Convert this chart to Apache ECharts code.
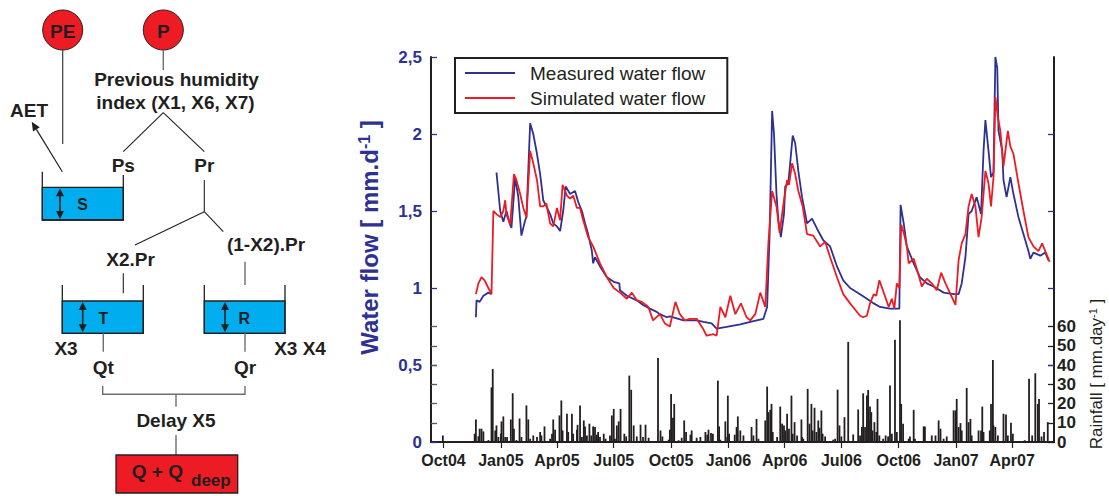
<!DOCTYPE html>
<html><head><meta charset="utf-8">
<script src="https://cdn.jsdelivr.net/npm/echarts@6/dist/echarts.min.js"></script>
<style>html,body{margin:0;padding:0;background:#fff}#c{width:1109px;height:496px}</style>
</head><body><div id="c"></div>
<script>
// ---------- DATA ----------
const tickLabels = ['Oct04','Jan05','Apr05','Jul05','Oct05','Jan06','Apr06','Jul06','Oct06','Jan07','Apr07'];
const tickDates = ['2004-10-01','2005-01-01','2005-04-01','2005-07-01','2005-10-01','2006-01-01','2006-04-01','2006-07-01','2006-10-01','2007-01-01','2007-04-01'];
const flowTicks = [0, 0.5, 1, 1.5, 2, 2.5];
const rainTicks = [0, 10, 20, 30, 40, 50, 60];
const seriesNames = ['Measured water flow', 'Simulated water flow'];

const measuredFlow = [
['2004-11-22',0.81],['2004-11-23',0.92],['2004-11-28',0.91],['2004-12-04',0.95],['2004-12-12',0.97],['2004-12-17',0.96],['2004-12-21',null],
['2004-12-25',1.75],['2004-12-31',1.50],['2005-01-05',1.43],['2005-01-10',1.50],['2005-01-16',1.41],['2005-01-18',1.39],['2005-01-24',1.72],['2005-01-29',1.59],['2005-02-03',1.34],['2005-02-09',1.44],['2005-02-11',1.46],['2005-02-17',2.07],['2005-02-22',2.00],['2005-02-28',1.87],['2005-03-05',1.74],['2005-03-10',1.57],['2005-03-15',1.53],['2005-03-21',1.48],['2005-03-26',1.42],['2005-04-01',1.40],['2005-04-06',1.37],['2005-04-11',1.50],['2005-04-15',1.66],['2005-04-22',1.61],['2005-04-30',1.63],['2005-05-05',1.56],['2005-05-11',1.50],['2005-05-16',1.42],['2005-05-21',1.35],['2005-05-27',1.24],['2005-05-29',1.16],['2005-06-01',1.20],['2005-06-09',1.14],['2005-06-20',1.07],['2005-07-01',1.04],['2005-07-10',1.03],['2005-07-11',0.985],['2005-07-22',0.95],['2005-08-07',0.92],['2005-08-17',0.89],['2005-08-28',0.866],['2005-09-08',0.845],['2005-09-13',0.83],['2005-09-24',0.81],['2005-09-29',0.816],['2005-10-21',0.79],['2005-11-11',0.79],['2005-11-22',0.78],['2005-12-05',0.77],['2005-12-13',0.736],['2005-12-29',0.747],['2006-01-20',0.764],['2006-02-05',0.78],['2006-02-26',0.80],['2006-03-04',0.877],['2006-03-08',1.35],['2006-03-12',2.15],['2006-03-15',2.00],['2006-03-19',1.61],['2006-03-22',1.44],['2006-03-26',1.33],['2006-03-31',1.48],['2006-04-02',1.66],['2006-04-07',1.68],['2006-04-14',1.99],['2006-04-18',1.94],['2006-04-23',1.76],['2006-04-29',1.59],['2006-05-07',1.42],['2006-05-15',1.45],['2006-05-23',1.385],['2006-06-02',1.31],['2006-06-13',1.27],['2006-06-24',1.14],['2006-07-04',1.05],['2006-07-15',1.00],['2006-07-31',0.96],['2006-08-11',0.93],['2006-08-22',0.90],['2006-09-01',0.877],['2006-09-17',0.866],['2006-10-02',0.866],['2006-10-04',1.54],['2006-10-09',1.42],['2006-10-14',1.27],['2006-10-18',1.23],['2006-10-25',1.16],['2006-11-04',1.07],['2006-11-15',1.03],['2006-11-26',1.01],['2006-12-12',0.97],['2006-12-28',0.96],['2007-01-05',0.96],['2007-01-10',1.03],['2007-01-16',1.20],['2007-01-21',1.48],['2007-01-26',1.50],['2007-02-03',1.59],['2007-02-10',1.48],['2007-02-14',1.89],['2007-02-17',2.09],['2007-02-22',1.89],['2007-02-26',1.72],['2007-03-02',1.75],['2007-03-05',2.5],['2007-03-08',2.43],['2007-03-10',2.02],['2007-03-16',1.89],['2007-03-18',1.70],['2007-03-23',1.59],['2007-03-29',1.72],['2007-04-03',1.61],['2007-04-11',1.46],['2007-04-19',1.35],['2007-04-27',1.24],['2007-04-30',1.19],['2007-05-05',1.23],['2007-05-16',1.21],['2007-05-24',1.23],['2007-05-29',1.18]
];

const simulatedFlow = [
['2004-11-22',0.96],['2004-11-26',1.03],['2004-12-01',1.07],['2004-12-06',1.05],['2004-12-12',1.00],['2004-12-17',0.96],['2004-12-20',1.50],['2004-12-25',1.48],['2004-12-31',1.46],['2005-01-05',1.50],['2005-01-08',1.57],['2005-01-10',1.48],['2005-01-16',1.41],['2005-01-22',1.74],['2005-01-26',1.70],['2005-02-01',1.61],['2005-02-06',1.52],['2005-02-11',1.46],['2005-02-17',1.89],['2005-02-22',1.81],['2005-02-28',1.70],['2005-03-05',1.53],['2005-03-10',1.53],['2005-03-15',1.55],['2005-03-21',1.42],['2005-03-26',1.40],['2005-04-01',1.52],['2005-04-06',1.44],['2005-04-10',1.67],['2005-04-17',1.60],['2005-04-22',1.58],['2005-04-27',1.60],['2005-05-03',1.52],['2005-05-08',1.52],['2005-05-13',1.44],['2005-05-21',1.33],['2005-05-29',1.27],['2005-06-09',1.16],['2005-06-20',1.07],['2005-07-01',1.00],['2005-07-11',0.97],['2005-07-22',0.93],['2005-07-30',0.97],['2005-08-07',0.92],['2005-08-15',0.91],['2005-08-25',0.88],['2005-08-28',0.85],['2005-09-02',0.79],['2005-09-13',0.83],['2005-09-21',0.77],['2005-09-29',0.75],['2005-10-08',0.91],['2005-10-15',0.83],['2005-10-23',0.79],['2005-10-31',0.80],['2005-11-11',0.80],['2005-11-22',0.73],['2005-11-27',0.69],['2005-12-08',0.70],['2005-12-13',0.69],['2005-12-19',0.877],['2005-12-27',0.81],['2006-01-04',0.95],['2006-01-12',0.83],['2006-01-21',0.90],['2006-01-30',0.81],['2006-02-05',0.79],['2006-02-13',0.83],['2006-02-21',0.97],['2006-03-01',0.877],['2006-03-06',1.29],['2006-03-12',1.63],['2006-03-19',1.53],['2006-03-24',1.36],['2006-03-31',1.57],['2006-04-05',1.70],['2006-04-08',1.67],['2006-04-13',1.81],['2006-04-18',1.74],['2006-04-23',1.63],['2006-04-30',1.53],['2006-05-07',1.35],['2006-05-17',1.34],['2006-05-28',1.27],['2006-06-05',1.30],['2006-06-13',1.20],['2006-06-24',1.07],['2006-07-04',0.96],['2006-07-15',0.90],['2006-07-31',0.82],['2006-08-05',0.81],['2006-08-11',0.82],['2006-08-16',0.90],['2006-08-22',0.96],['2006-08-26',0.95],['2006-08-31',1.05],['2006-09-07',0.97],['2006-09-15',0.877],['2006-09-20',0.93],['2006-09-24',0.866],['2006-09-28',1.03],['2006-10-02',1.00],['2006-10-05',1.41],['2006-10-09',1.36],['2006-10-14',1.27],['2006-10-17',1.16],['2006-10-25',1.19],['2006-10-31',1.11],['2006-11-07',1.01],['2006-11-15',1.06],['2006-11-23',1.03],['2006-12-01',0.985],['2006-12-08',1.10],['2006-12-15',1.03],['2006-12-23',0.96],['2006-12-31',0.89],['2007-01-05',1.18],['2007-01-10',1.29],['2007-01-16',1.35],['2007-01-21',1.53],['2007-01-26',1.61],['2007-02-01',1.53],['2007-02-06',1.33],['2007-02-11',1.46],['2007-02-17',1.76],['2007-02-22',1.68],['2007-02-26',1.53],['2007-03-02',1.72],['2007-03-05',2.24],['2007-03-09',2.11],['2007-03-13',2.02],['2007-03-18',1.79],['2007-03-25',2.02],['2007-03-29',1.92],['2007-04-03',1.87],['2007-04-11',1.68],['2007-04-19',1.50],['2007-04-27',1.33],['2007-05-05',1.27],['2007-05-13',1.24],['2007-05-19',1.29],['2007-05-24',1.24],['2007-05-31',1.17]
];

const rainfall = [
['2004-09-30',3.4],['2004-11-20',4.3],['2004-11-22',11.7],['2004-11-26',3],['2004-11-28',6.9],['2004-12-01',6.9],['2004-12-04',5.5],['2004-12-12',1],['2004-12-17',28.4],['2004-12-19',37.9],['2004-12-23',6],['2004-12-25',8.6],['2004-12-28',2.6],['2005-01-01',4.3],['2005-01-02',10.7],['2005-01-05',13.3],['2005-01-08',2.6],['2005-01-11',2.6],['2005-01-17',11.7],['2005-01-20',25.3],['2005-01-22',6.9],['2005-01-26',1],['2005-01-31',12.2],['2005-02-03',2.6],['2005-02-11',19],['2005-02-14',11.7],['2005-02-17',1.7],['2005-02-22',3.4],['2005-02-28',2.6],['2005-03-05',5.2],['2005-03-07',3.4],['2005-03-12',8.1],['2005-03-21',1.7],['2005-03-24',4.3],['2005-03-26',11.7],['2005-03-29',6.4],['2005-04-05',13.8],['2005-04-08',21.6],['2005-04-10',6],['2005-04-17',14.7],['2005-04-19',5.2],['2005-04-25',14.7],['2005-04-27',4.3],['2005-05-03',6.4],['2005-05-04',8.9],['2005-05-08',19],['2005-05-11',2.6],['2005-05-14',11.2],['2005-05-16',8.1],['2005-05-19',3.4],['2005-05-23',9.5],['2005-05-26',3.4],['2005-05-29',8.1],['2005-06-01',7.8],['2005-06-04',3.8],['2005-06-06',5.2],['2005-06-09',2.6],['2005-06-15',4.3],['2005-06-18',1.7],['2005-06-25',3.4],['2005-06-28',13.8],['2005-07-01',17.2],['2005-07-03',1.7],['2005-07-06',8.6],['2005-07-09',10.7],['2005-07-12',17.2],['2005-07-18',4.3],['2005-07-21',2.9],['2005-07-26',34.5],['2005-07-29',27.1],['2005-08-02',8.6],['2005-08-07',2.9],['2005-08-13',9],['2005-08-17',2.6],['2005-08-21',9],['2005-08-26',2.2],['2005-09-10',43.6],['2005-09-14',6],['2005-09-17',2.9],['2005-09-27',1.2],['2005-09-29',6.4],['2005-10-01',25],['2005-10-04',12.6],['2005-10-06',19.8],['2005-10-13',0.9],['2005-10-18',2.2],['2005-10-22',11.2],['2005-10-25',5.2],['2005-11-01',3.8],['2005-11-03',6],['2005-11-11',2.2],['2005-11-17',2.6],['2005-11-25',5.2],['2005-11-28',3.8],['2005-11-30',6.4],['2005-12-04',4.7],['2005-12-07',4.3],['2005-12-15',31.9],['2005-12-17',8.1],['2005-12-19',1.2],['2005-12-27',10.7],['2005-12-30',2.6],['2005-12-31',24.1],['2006-01-02',4.3],['2006-01-11',3.8],['2006-01-14',7.8],['2006-01-16',13.3],['2006-01-20',6],['2006-01-25',3.4],['2006-02-07',7.8],['2006-02-10',3.4],['2006-02-15',12],['2006-02-18',1.7],['2006-03-01',11.2],['2006-03-04',28.8],['2006-03-06',15.5],['2006-03-09',16.7],['2006-03-11',19.8],['2006-03-13',5.2],['2006-03-20',2.6],['2006-03-25',18.4],['2006-03-28',9.5],['2006-03-31',8.6],['2006-04-02',6],['2006-04-05',14.7],['2006-04-08',6.9],['2006-04-12',24.1],['2006-04-14',4.3],['2006-04-17',10.3],['2006-04-21',3.4],['2006-04-28',11.7],['2006-04-29',2.6],['2006-05-01',1.7],['2006-05-08',27.6],['2006-05-11',9.5],['2006-05-14',19.8],['2006-05-16',6],['2006-05-19',17.8],['2006-05-22',5.2],['2006-05-25',11.2],['2006-05-27',7.4],['2006-05-30',16.4],['2006-06-01',4.3],['2006-06-05',2.9],['2006-06-08',0.5],['2006-06-18',1.2],['2006-06-21',1.7],['2006-06-25',27.2],['2006-06-28',8.6],['2006-07-01',2.9],['2006-07-06',12.9],['2006-07-12',52],['2006-07-20',3.9],['2006-07-28',16.9],['2006-07-31',3.4],['2006-08-03',7.8],['2006-08-05',25.3],['2006-08-08',7.8],['2006-08-11',24.1],['2006-08-13',27],['2006-08-14',11.2],['2006-08-16',18.4],['2006-08-18',15.5],['2006-08-20',6],['2006-08-23',10.3],['2006-08-26',5.2],['2006-08-28',22.4],['2006-08-31',3.4],['2006-09-06',1.7],['2006-09-10',3.4],['2006-09-14',2.9],['2006-09-17',29.3],['2006-09-20',4.3],['2006-09-25',53.1],['2006-09-28',5.2],['2006-10-03',63.3],['2006-10-05',19.8],['2006-10-08',9.5],['2006-10-17',1.7],['2006-10-19',2.9],['2006-10-25',16.7],['2006-10-27',1.7],['2006-11-10',8.1],['2006-11-12',8.1],['2006-11-23',3.4],['2006-11-29',3.4],['2006-12-04',11.2],['2006-12-07',6.9],['2006-12-12',1.7],['2006-12-17',2.9],['2006-12-28',16.4],['2006-12-31',16.4],['2007-01-02',22.4],['2007-01-05',7.8],['2007-01-08',9.8],['2007-01-10',6],['2007-01-18',28.1],['2007-01-21',10.3],['2007-01-24',12],['2007-01-26',3.4],['2007-02-06',6],['2007-02-10',6],['2007-02-12',18.4],['2007-02-14',5.2],['2007-02-24',6],['2007-02-26',19.8],['2007-03-01',42.6],['2007-03-02',8.6],['2007-03-05',7.8],['2007-03-09',3.4],['2007-03-18',14.7],['2007-03-22',14.3],['2007-03-25',3.4],['2007-03-30',10],['2007-04-02',4.3],['2007-04-21',0.9],['2007-04-28',32.8],['2007-05-03',3.4],['2007-05-08',35.7],['2007-05-12',19.8],['2007-05-14',22.4],['2007-05-18',2.9],['2007-05-22',5.2],['2007-05-28',10.3]
];

// ---------- HELPERS ----------
function ts(s) { const p = s.split('-').map(Number); return Date.UTC(p[0], p[1] - 1, p[2]); }
const tickTs = tickDates.map(ts);
const xMin = ts('2004-09-11'), xMax = ts('2007-06-07');
function labelFor(v) {
  let best = 0, bd = Infinity;
  tickTs.forEach((t, i) => { const d = Math.abs(t - v); if (d < bd) { bd = d; best = i; } });
  return tickLabels[best];
}
const toXY = arr => arr.map(d => [ts(d[0]), d[1]]);

const FF = '"Liberation Sans", Arial, Helvetica, sans-serif';
const ink = '#231f20';
const navy = '#2e3192';
const red = '#ed1c24';
const cyan = '#00aeef';
const gray = '#6d6e71';

// ---------- DIAGRAM (schematic, not data) ----------
const g = [];
function T(text, x, y, size, o) {
  o = o || {};
  g.push({ type: 'text', x: x, y: y, silent: true, z: 10,
    style: { text: text, fill: o.fill || ink, font: (o.weight || 'bold') + ' ' + size + 'px ' + FF,
      align: o.align || 'center', verticalAlign: 'middle' } });
}
function L(x1, y1, x2, y2, c, w) {
  g.push({ type: 'line', silent: true, shape: { x1: x1, y1: y1, x2: x2, y2: y2 }, style: { stroke: c || ink, lineWidth: w || 1.2 } });
}
function PL(pts, c, w) {
  g.push({ type: 'polyline', silent: true, shape: { points: pts }, style: { stroke: c || ink, lineWidth: w || 1.3, fill: null } });
}
function DA(x, y1, y2) {
  L(x, y1 + 7, x, y2 - 7, ink, 1.6);
  g.push({ type: 'polygon', silent: true, shape: { points: [[x, y1], [x - 4, y1 + 8], [x + 4, y1 + 8]] }, style: { fill: ink } });
  g.push({ type: 'polygon', silent: true, shape: { points: [[x, y2], [x - 4, y2 - 8], [x + 4, y2 - 8]] }, style: { fill: ink } });
}
function tank(l, r, wallTopL, wallTopR, waterTop, bottom, arrowX, label, labelX) {
  g.push({ type: 'rect', silent: true, shape: { x: l, y: waterTop, width: r - l, height: bottom - waterTop }, style: { fill: cyan, stroke: ink, lineWidth: 1.3 } });
  PL([[l, wallTopL], [l, bottom], [r, bottom], [r, wallTopR]], ink, 1.3);
  DA(arrowX, waterTop + 1, bottom - 1);
  T(label, labelX, (waterTop + bottom) / 2 + 1, 16);
}

g.push({ type: 'circle', silent: true, shape: { cx: 62.7, cy: 30, r: 20 }, style: { fill: red, stroke: ink, lineWidth: 1 } });
g.push({ type: 'circle', silent: true, shape: { cx: 163.3, cy: 30, r: 20 }, style: { fill: red, stroke: ink, lineWidth: 1 } });
T('PE', 62.7, 31, 19);
T('P', 163.3, 31, 19);
L(62.7, 50, 62.7, 144, '#3a3a3a', 1.2);
L(163.3, 50, 163.3, 70, gray, 1.4);
T('Previous humidity', 176.5, 79, 19);
T('index (X1, X6, X7)', 175.5, 102, 19);
T('AET', 29, 110, 19);
L(62.3, 171.7, 36.4, 129.4, ink, 1.2);
g.push({ type: 'polygon', silent: true, shape: { points: [[31.7, 121.7], [39.8, 127.3], [33.0, 131.5]] }, style: { fill: ink } });
L(163.3, 112.7, 123.3, 151.7, ink, 1.1);
L(163.3, 112.7, 204.3, 151.7, ink, 1.1);
T('Ps', 123.3, 165.7, 19);
T('Pr', 204.3, 165.7, 19);
tank(42.3, 123.3, 171.7, 175, 187.3, 220, 60, 'S', 82.7);
L(204.3, 180, 204.3, 211.7, ink, 1.1);
L(204.3, 211.7, 135, 245, ink, 1.1);
L(204.3, 211.7, 223.3, 231.7, ink, 1.1);
T('X2.Pr', 130.5, 259.3, 19);
T('(1-X2).Pr', 266, 244, 19);
L(123.3, 273.3, 123.3, 293.3, ink, 1.1);
L(245, 261.7, 245, 285, gray, 1.4);
tank(62.3, 143.3, 285, 285, 301, 333.3, 82.7, 'T', 103.3);
tank(204.3, 285, 285, 285, 301, 333.3, 225, 'R', 244.3);
T('X3', 66, 348.3, 19);
T('X3 X4', 300, 348.3, 19);
L(103.3, 333.3, 103.3, 351.7, gray, 1.4);
L(245, 333.3, 245, 351.7, gray, 1.4);
T('Qt', 103.3, 367.3, 19);
T('Qr', 245, 367.3, 19);
PL([[102.7, 386], [102.7, 394.3], [245, 394.3], [245, 386]], gray, 1.4);
L(176, 394.3, 176, 406.7, gray, 1.4);
T('Delay X5', 176, 420.7, 19);
L(176, 435, 176, 455, gray, 1.4);
g.push({ type: 'rect', silent: true, shape: { x: 116, y: 455, width: 121.7, height: 38 }, style: { fill: red, stroke: ink, lineWidth: 1.3 } });
T('Q + Q', 131.7, 471.7, 19, { align: 'left' });
T('deep', 191, 480, 17, { align: 'left' });

g.push({ type: 'text', silent: true, x: 369, y: 237.5, rotation: Math.PI / 2,
  style: { text: 'Water flow [ mm.d{sup|-1} ]', fill: navy, font: 'bold 24px ' + FF, align: 'center', verticalAlign: 'middle',
    rich: { sup: { fontSize: 16, fontWeight: 'bold', fontFamily: FF, fill: navy, verticalAlign: 'top', padding: [0, 0, 10, 0] } } } });
g.push({ type: 'text', silent: true, x: 1096.5, y: 374, rotation: Math.PI / 2,
  style: { text: 'Rainfall [ mm.day{sup|-1} ]', fill: ink, font: 'normal 17px ' + FF, align: 'center', verticalAlign: 'middle',
    rich: { sup: { fontSize: 11, fontFamily: FF, fill: ink, verticalAlign: 'top', padding: [0, 0, 7, 0] } } } });

// ---------- CHART ----------
const chart = echarts.init(document.getElementById('c'), null, { renderer: 'svg' });
chart.setOption({
  animation: false,
  backgroundColor: '#fff',
  textStyle: { fontFamily: FF },
  grid: { left: 431, top: 57, width: 623, height: 385, containLabel: false },
  legend: {
    data: seriesNames, left: 455, top: 58, orient: 'vertical', icon: 'rect',
    itemWidth: 50, itemHeight: 2, itemGap: 5, padding: [5, 22, 5, 10],
    borderColor: ink, borderWidth: 2, borderRadius: 0, backgroundColor: '#fff',
    textStyle: { fontSize: 19, fontFamily: FF, color: ink, padding: [0, 0, 0, 10], lineHeight: 20 }
  },
  xAxis: [
    { type: 'value', min: xMin, max: xMax, position: 'bottom',
      axisLine: { show: true, lineStyle: { color: ink, width: 2 } },
      axisTick: { show: false },
      axisLabel: { customValues: tickTs, formatter: v => labelFor(v), fontWeight: 'bold', fontSize: 16, fontFamily: FF, color: ink, margin: 10, hideOverlap: false },
      splitLine: { show: false } },
    { type: 'value', min: xMin, max: xMax, position: 'top',
      axisLine: { show: true, lineStyle: { color: ink, width: 2 } },
      axisTick: { show: true, inside: true, length: 6, customValues: tickTs, lineStyle: { color: ink, width: 1.2 } },
      axisLabel: { show: false }, splitLine: { show: false } }
  ],
  yAxis: [
    { type: 'value', position: 'left', min: 0, max: 2.5, interval: 0.5,
      axisLine: { show: true, lineStyle: { color: ink, width: 2 } },
      axisTick: { show: true, inside: true, length: 6, lineStyle: { color: navy, width: 1.3 } },
      axisLabel: { color: navy, fontWeight: 'bold', fontSize: 17, fontFamily: FF, margin: 9, formatter: v => String(v).replace('.', ',') },
      splitLine: { show: false } },
    { type: 'value', position: 'right', min: 0, max: 200, interval: 10,
      axisLine: { show: true, lineStyle: { color: ink, width: 2 } },
      axisTick: { show: true, inside: true, length: 6, customValues: rainTicks, lineStyle: { color: ink, width: 1.3 } },
      axisLabel: { customValues: rainTicks, color: ink, fontWeight: 'bold', fontSize: 17, fontFamily: FF, margin: 3 },
      splitLine: { show: false } },
    { type: 'value', position: 'left', min: 0, max: 200,
      axisLine: { show: false },
      axisTick: { show: true, inside: true, length: 6, customValues: rainTicks.slice(1), lineStyle: { color: '#58595b', width: 1.3 } },
      axisLabel: { show: false }, splitLine: { show: false } },
    { type: 'value', position: 'right', min: 0, max: 2.5, interval: 0.5,
      axisLine: { show: false },
      axisTick: { show: true, inside: true, length: 6, customValues: flowTicks.slice(1, 5), lineStyle: { color: navy, width: 1.3 } },
      axisLabel: { show: false }, splitLine: { show: false } }
  ],
  series: [
    { name: 'Rainfall', type: 'bar', xAxisIndex: 0, yAxisIndex: 1, data: toXY(rainfall), barWidth: 1.8,
      itemStyle: { color: ink }, z: 1, silent: true },
    { name: seriesNames[0], type: 'line', xAxisIndex: 0, yAxisIndex: 0, data: toXY(measuredFlow), symbol: 'none', showSymbol: false,
      connectNulls: false, lineStyle: { color: navy, width: 1.8 }, itemStyle: { color: navy }, z: 3 },
    { name: seriesNames[1], type: 'line', xAxisIndex: 0, yAxisIndex: 0, data: toXY(simulatedFlow), symbol: 'none', showSymbol: false,
      lineStyle: { color: red, width: 1.8 }, itemStyle: { color: red }, z: 4 }
  ],
  graphic: g
});
</script></body></html>
